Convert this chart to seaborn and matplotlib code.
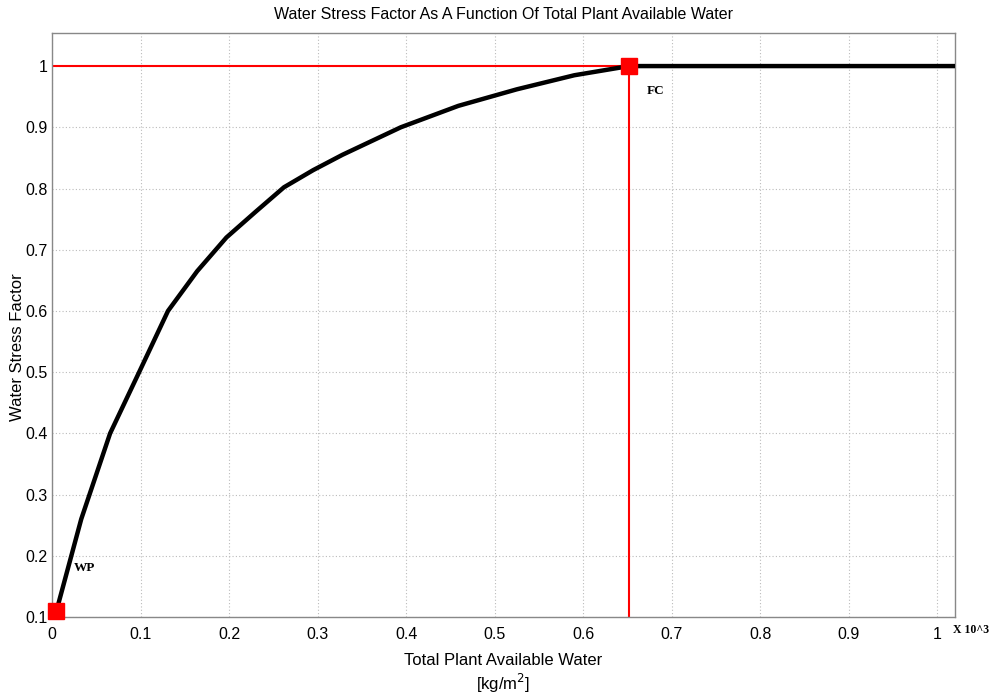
import matplotlib
matplotlib.use("Agg")
import matplotlib.pyplot as plt
import seaborn as sns
import pandas as pd

# Data (x in thousands of kg/m^2)
taw = [0.005, 0.033, 0.0656, 0.0984, 0.131, 0.164, 0.197, 0.230, 0.262, 0.295, 0.328,
       0.394, 0.459, 0.525, 0.590, 0.652, 0.80, 1.02]
wsf = [0.11, 0.26, 0.40, 0.50, 0.60, 0.665, 0.72, 0.762, 0.802, 0.83, 0.855,
       0.90, 0.935, 0.962, 0.985, 1.0, 1.0, 1.0]
wp_point = (0.005, 0.11)
fc_point = (0.652, 1.0)
xticks = [0, 0.1, 0.2, 0.3, 0.4, 0.5, 0.6, 0.7, 0.8, 0.9, 1.0]
yticks = [0.1, 0.2, 0.3, 0.4, 0.5, 0.6, 0.7, 0.8, 0.9, 1.0]

sns.set_style("white")
plt.rcParams["font.family"] = ["Liberation Sans", "DejaVu Sans"]
plt.rcParams["text.color"] = "black"
plt.rcParams["xtick.color"] = "black"
plt.rcParams["ytick.color"] = "black"

fig = plt.figure(figsize=(9.93, 6.95), dpi=100)
ax = fig.add_axes([0.0524, 0.1122, 0.9093, 0.8403])

df = pd.DataFrame({"x": taw, "y": wsf})
# red reference lines
ax.plot([0, fc_point[0]], [1.0, 1.0], color="red", lw=1.5, zorder=2)
ax.plot([fc_point[0], fc_point[0]], [0.1, 1.0], color="red", lw=1.5, zorder=2)
sns.lineplot(data=df, x="x", y="y", ax=ax, color="black", lw=3.2, zorder=3,
             estimator=None, sort=False)
ax.plot([wp_point[0]], [wp_point[1]], marker="s", color="red", ms=11, zorder=4, clip_on=False)
ax.plot([fc_point[0]], [fc_point[1]], marker="s", color="red", ms=11, zorder=4, clip_on=False)

ax.set_xlim(0, 1.02)
ax.set_ylim(0.1, 1.054)
ax.set_xticks(xticks)
ax.set_xticklabels(["0"] + [f"{v:g}" for v in xticks[1:]], fontsize=11.5)
ax.set_yticks(yticks)
ax.set_yticklabels([f"{v:g}" for v in yticks], fontsize=11.5)
ax.grid(True, color="#bbbbbb", linestyle=(0, (1, 2)), lw=0.8)
ax.tick_params(direction="in", length=5, color="#888888", pad=3)
ax.tick_params(axis="x", pad=7)
for s in ax.spines.values():
    s.set_color("#888888")
    s.set_linewidth(1.0)

ax.set_xlabel("")
ax.set_ylabel("")
fig.text(0.018, 0.5, "Water Stress Factor", rotation=90, ha="center", va="center", fontsize=12)
fig.text(0.0524 + 0.9093 / 2, 0.050, "Total Plant Available Water", ha="center", va="center", fontsize=12)
fig.text(0.0524 + 0.9093 / 2, 0.016, "[kg/m$^2$]", ha="center", va="center", fontsize=12)
ax.set_title("Water Stress Factor As A Function Of Total Plant Available Water", fontsize=11.5, pad=10)

ax.text(0.025, 0.175, "WP", family=["Liberation Serif", "DejaVu Serif"], fontweight="bold", fontsize=9.5)
ax.text(0.672, 0.955, "FC", family=["Liberation Serif", "DejaVu Serif"], fontweight="bold", fontsize=9.5)
fig.text(0.960, 0.093, "X 10^3", family=["Liberation Serif", "DejaVu Serif"], fontweight="bold", fontsize=8.5, va="center")

fig.savefig("out.png", dpi=100)
